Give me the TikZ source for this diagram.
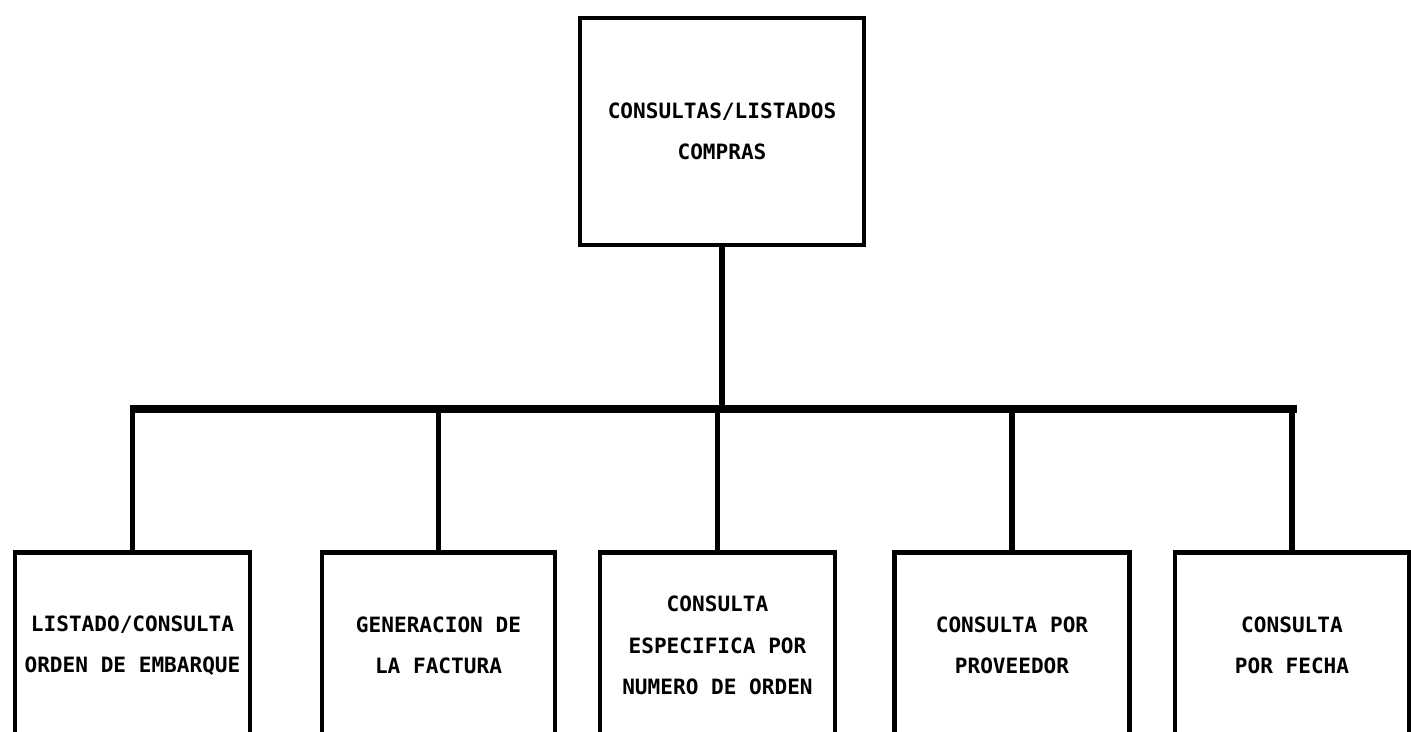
\documentclass[tikz,border=0pt]{standalone}
\usepackage{fontspec}
\usetikzlibrary{positioning}
\usetikzlibrary{calc}
\newfontfamily\cajafont{DejaVu Sans Mono}
\tikzset{
	caja/.style={draw,line width=2.7pt,align=center,font=\cajafont\bfseries\fontsize{12}{23.5}\selectfont,inner sep=0pt},
	hijo/.style={caja,anchor=north,minimum width=4.7cm,minimum height=3.72cm},
	linea/.style={line width=2.9pt},
	barra/.style={line width=4.5pt},
}

\begin{document}
\begin{tikzpicture}[x=0.02cm,y=0.02cm]
				\useasboundingbox (0,0) rectangle (1411,731);
				\clip (0,0) rectangle (1411,731);
				
				% top box.....................
				\node [caja,minimum width=5.68cm,minimum height=4.54cm] (compras) at (722,599.5) {CONSULTAS/LISTADOS\\COMPRAS};
				
				% bottom boxes......................
				\node [hijo] (embarque) at (132.5,181) {LISTADO/CONSULTA\\ORDEN DE EMBARQUE};
				\node [hijo,minimum width=4.66cm] (factura) at (438.5,181) {GENERACION DE\\LA FACTURA};
				\node [hijo] (orden) at (717.5,181) {CONSULTA\\ESPECIFICA POR\\NUMERO DE ORDEN};
				\node [hijo] (proveedor) at (1012,181) {CONSULTA POR\\PROVEEDOR};
				\node [hijo,minimum width=4.68cm] (fecha) at (1292,181) {CONSULTA\\POR FECHA};
				
				% bar...................
				\coordinate (barL) at (130,322);
				\coordinate (barR) at (1297,322);
				\draw [barra] (barL) -- (barR);
				
				% connectors.............
				\draw [linea] (compras.south) -- (compras.south |- barL);
				\draw [linea] (embarque.north) -- (embarque.north |- barL);
				\draw [linea] (factura.north) -- (factura.north |- barL);
				\draw [linea] (orden.north) -- (orden.north |- barL);
				\draw [linea] (proveedor.north) -- (proveedor.north |- barL);
				\draw [linea] (fecha.north) -- (fecha.north |- barL);
			\end{tikzpicture}
\end{document}
